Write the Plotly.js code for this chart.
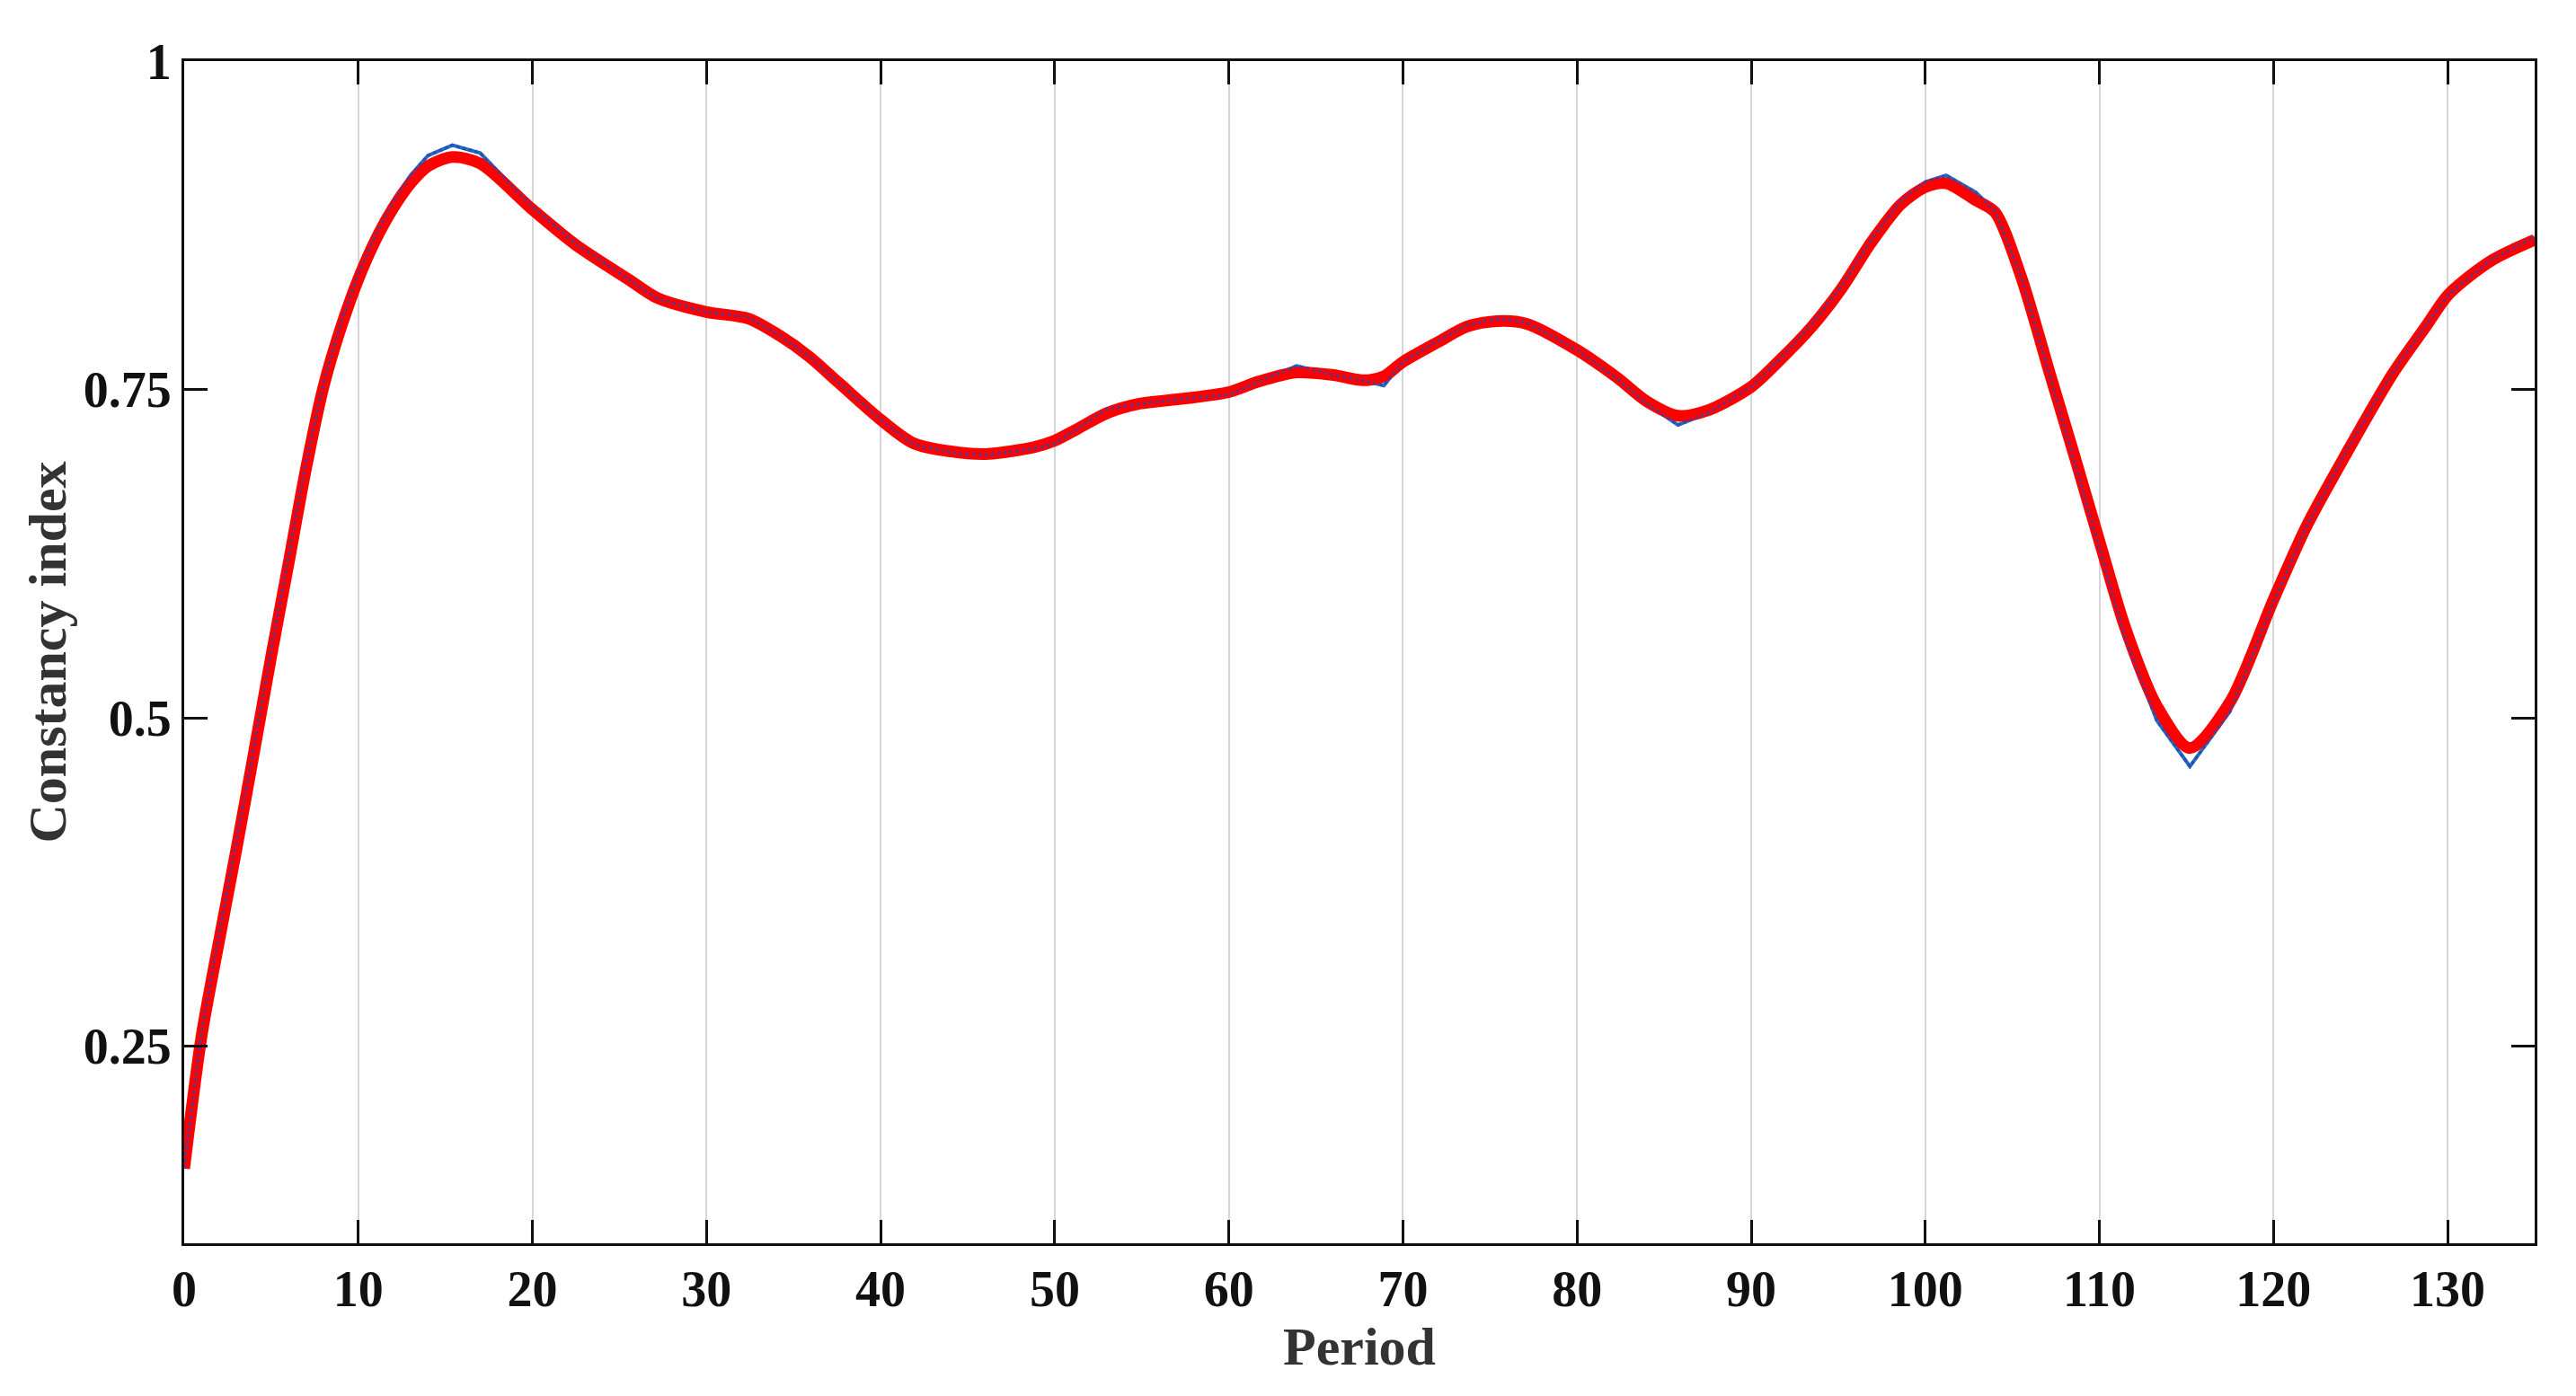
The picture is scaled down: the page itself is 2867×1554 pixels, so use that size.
<!DOCTYPE html>
<html>
<head>
<meta charset="utf-8">
<script src="https://cdn.plot.ly/plotly-3.0.1.min.js"></script>
<style>html,body{margin:0;padding:0;background:#fff;}#chart{width:2867px;height:1554px;}</style>
</head>
<body>
<div id="chart"></div>
<script>
// Period values (x)
const period = [0,1,2,3,4,5,6,7,8,9,10,11,12,13,14,15.4,17,20,22.5,25.5,27.2,30,32.4,34.2,35.9,37.6,40,41.9,44.5,46.2,48.8,50,51.3,53,54.8,57.4,60,61.7,63.9,66,67.7,68.9,70,72,73.7,75.4,77.1,80,82.3,84,85.8,87.5,90,91.7,93.5,95.2,96.9,98.6,100,101.2,102.9,104,105.5,107.2,108.6,110.1,111.5,113.3,115.2,117.5,120,121.9,124.3,126.8,128.7,130.1,132.5,135];

// Observed constancy index (blue)
const observed = [0.157,0.262,0.335,0.405,0.478,0.552,0.624,0.695,0.755,0.801,0.838,0.868,0.893,0.913,0.928,0.936,0.930,0.889,0.861,0.834,0.819,0.809,0.805,0.791,0.775,0.755,0.727,0.708,0.701,0.700,0.705,0.709,0.720,0.735,0.739,0.743,0.746,0.756,0.768,0.761,0.757,0.753,0.771,0.787,0.799,0.804,0.801,0.780,0.758,0.739,0.723,0.732,0.752,0.774,0.800,0.829,0.864,0.894,0.908,0.913,0.900,0.886,0.836,0.758,0.694,0.625,0.560,0.498,0.463,0.505,0.588,0.646,0.706,0.762,0.798,0.823,0.849,0.866];

// Smoothed constancy index (red)
const smoothed = [0.157,0.258,0.33,0.40,0.473,0.547,0.618,0.69,0.752,0.797,0.834,0.864,0.888,0.907,0.920,0.927,0.922,0.887,0.86,0.834,0.8195,0.809,0.804,0.791,0.775,0.755,0.727,0.709,0.702,0.701,0.706,0.711,0.720,0.732,0.739,0.743,0.748,0.756,0.763,0.761,0.757,0.760,0.771,0.786,0.798,0.802,0.800,0.780,0.759,0.741,0.730,0.734,0.752,0.773,0.798,0.827,0.862,0.891,0.904,0.907,0.894,0.885,0.836,0.760,0.698,0.630,0.568,0.509,0.477,0.512,0.590,0.646,0.704,0.761,0.797,0.823,0.848,0.864];

const xTicks = [0,10,20,30,40,50,60,70,80,90,100,110,120,130];
const yTicks = [0.25,0.5,0.75,1];
const yTickText = ['0.25','0.5','0.75','1'];

const fontFam = 'Liberation Serif, Times New Roman, serif';

const traces = [
  {x: period, y: observed, mode: 'lines', line: {color: '#1a6fc4', width: 4}, hoverinfo: 'skip', showlegend: false},
  {x: period, y: smoothed, mode: 'lines', line: {color: '#ff0000', width: 13, shape: 'spline', smoothing: 0.8}, hoverinfo: 'skip', showlegend: false},
  {x: period, y: observed, mode: 'lines', line: {color: 'rgba(55,65,170,0.75)', width: 3.5, dash: 'dot'}, hoverinfo: 'skip', showlegend: false}
];

const layout = {
  width: 2867, height: 1554,
  margin: {l: 205, r: 46, t: 68, b: 170},
  paper_bgcolor: '#ffffff', plot_bgcolor: '#ffffff',
  showlegend: false,
  xaxis: {
    range: [0, 135], tickvals: xTicks, ticktext: xTicks.map(String),
    ticks: 'inside', ticklen: 26, tickwidth: 3, tickcolor: '#111',
    showline: true, linecolor: '#111', linewidth: 3, mirror: 'ticks',
    showgrid: true, gridcolor: '#d6d6d6', gridwidth: 2,
    zeroline: false,
    tickfont: {family: fontFam, size: 56, color: '#111', weight: 'bold'},
    title: {text: 'Period', font: {family: fontFam, size: 60, color: '#333', weight: 'bold'}, standoff: 0},
    automargin: false
  },
  yaxis: {
    range: [0.1, 1], tickvals: yTicks, ticktext: yTickText,
    ticks: 'inside', ticklen: 26, tickwidth: 3, tickcolor: '#111',
    showline: true, linecolor: '#111', linewidth: 3, mirror: 'ticks',
    showgrid: false, zeroline: false,
    tickfont: {family: fontFam, size: 56, color: '#111', weight: 'bold'},
    title: {text: 'Constancy index', font: {family: fontFam, size: 60, color: '#333', weight: 'bold'}, standoff: 0},
    automargin: false
  }
};

Plotly.newPlot('chart', traces, layout, {displayModeBar: false, staticPlot: true});
</script>
</body>
</html>
